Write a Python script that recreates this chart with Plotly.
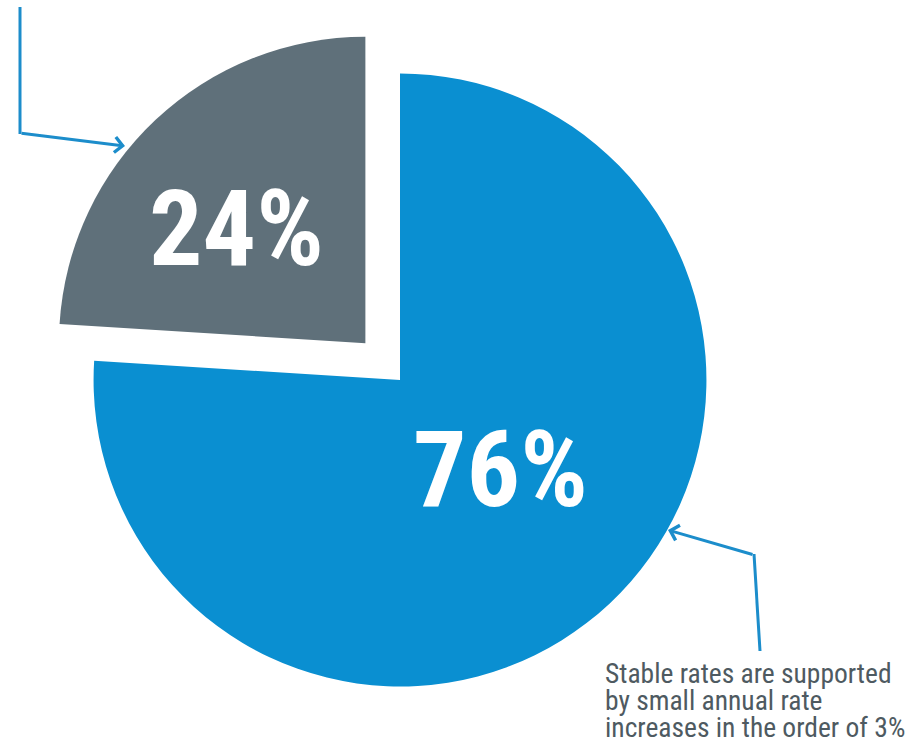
import plotly.graph_objects as go

W, H = 920, 744

labels = ["Stable rates", "Other"]
values = [76, 24]
colors = ["#0A8FD1", "#5F707A"]
pulls = [0, 0.165]

note_lines = ["Stable rates are supported", "by small annual rate", "increases in the order of 3%"]

NARROW = "'Roboto Condensed', 'Open Sans Condensed', Roboto, sans-serif"
LINE_BLUE = "#1C8DCB"
TEXT_GRAY = "#4E5A61"

def px(x):
    return x / W

def py(y):
    return (H - y) / H

fig = go.Figure(go.Pie(
    labels=labels,
    values=values,
    marker=dict(colors=colors, line=dict(width=0)),
    pull=pulls,
    sort=False,
    direction="clockwise",
    rotation=0,
    textinfo="none",
    hoverinfo="label+percent",
    domain=dict(x=[px(400 - 357), px(400 + 357)], y=[py(380 + 357), py(380 - 357)]),
    showlegend=False,
))

total = sum(values)
pct = [f"{round(v * 100 / total)}%" for v in values]

annotations = [
    dict(x=px(500), y=py(470), xref="paper", yref="paper", text=f"<b>{pct[0]}</b>",
         showarrow=False, font=dict(family=NARROW, size=106, color="white"),
         xanchor="center", yanchor="middle"),
    dict(x=px(236), y=py(229), xref="paper", yref="paper", text=f"<b>{pct[1]}</b>",
         showarrow=False, font=dict(family=NARROW, size=106, color="white"),
         xanchor="center", yanchor="middle"),
    # leader arrows
    dict(x=px(125), y=py(146), xref="paper", yref="paper", text="", showarrow=True,
         ax=20 - 125, ay=133 - 146, arrowhead=4, arrowsize=1, arrowwidth=3,
         arrowcolor=LINE_BLUE, standoff=0, startstandoff=0),
    dict(x=px(668), y=py(530), xref="paper", yref="paper", text="", showarrow=True,
         ax=754 - 668, ay=555 - 530, arrowhead=4, arrowsize=1, arrowwidth=3,
         arrowcolor=LINE_BLUE, standoff=0, startstandoff=0),
]

line_y = [673, 700, 727]
for txt, yy in zip(note_lines, line_y):
    annotations.append(dict(x=px(603), y=py(yy), xref="paper", yref="paper", text=txt,
                            showarrow=False, xanchor="left", yanchor="middle",
                            font=dict(family=NARROW, size=27.5, color=TEXT_GRAY)))

shapes = [
    dict(type="line", xref="paper", yref="paper", x0=px(20), y0=py(7), x1=px(20), y1=py(134),
         line=dict(color=LINE_BLUE, width=3)),
    dict(type="line", xref="paper", yref="paper", x0=px(754), y0=py(554), x1=px(760), y1=py(651),
         line=dict(color=LINE_BLUE, width=3)),
]

fig.update_layout(
    width=W, height=H,
    margin=dict(l=0, r=0, t=0, b=0),
    paper_bgcolor="white",
    plot_bgcolor="white",
    annotations=annotations,
    shapes=shapes,
)

fig.write_html("out.html")
